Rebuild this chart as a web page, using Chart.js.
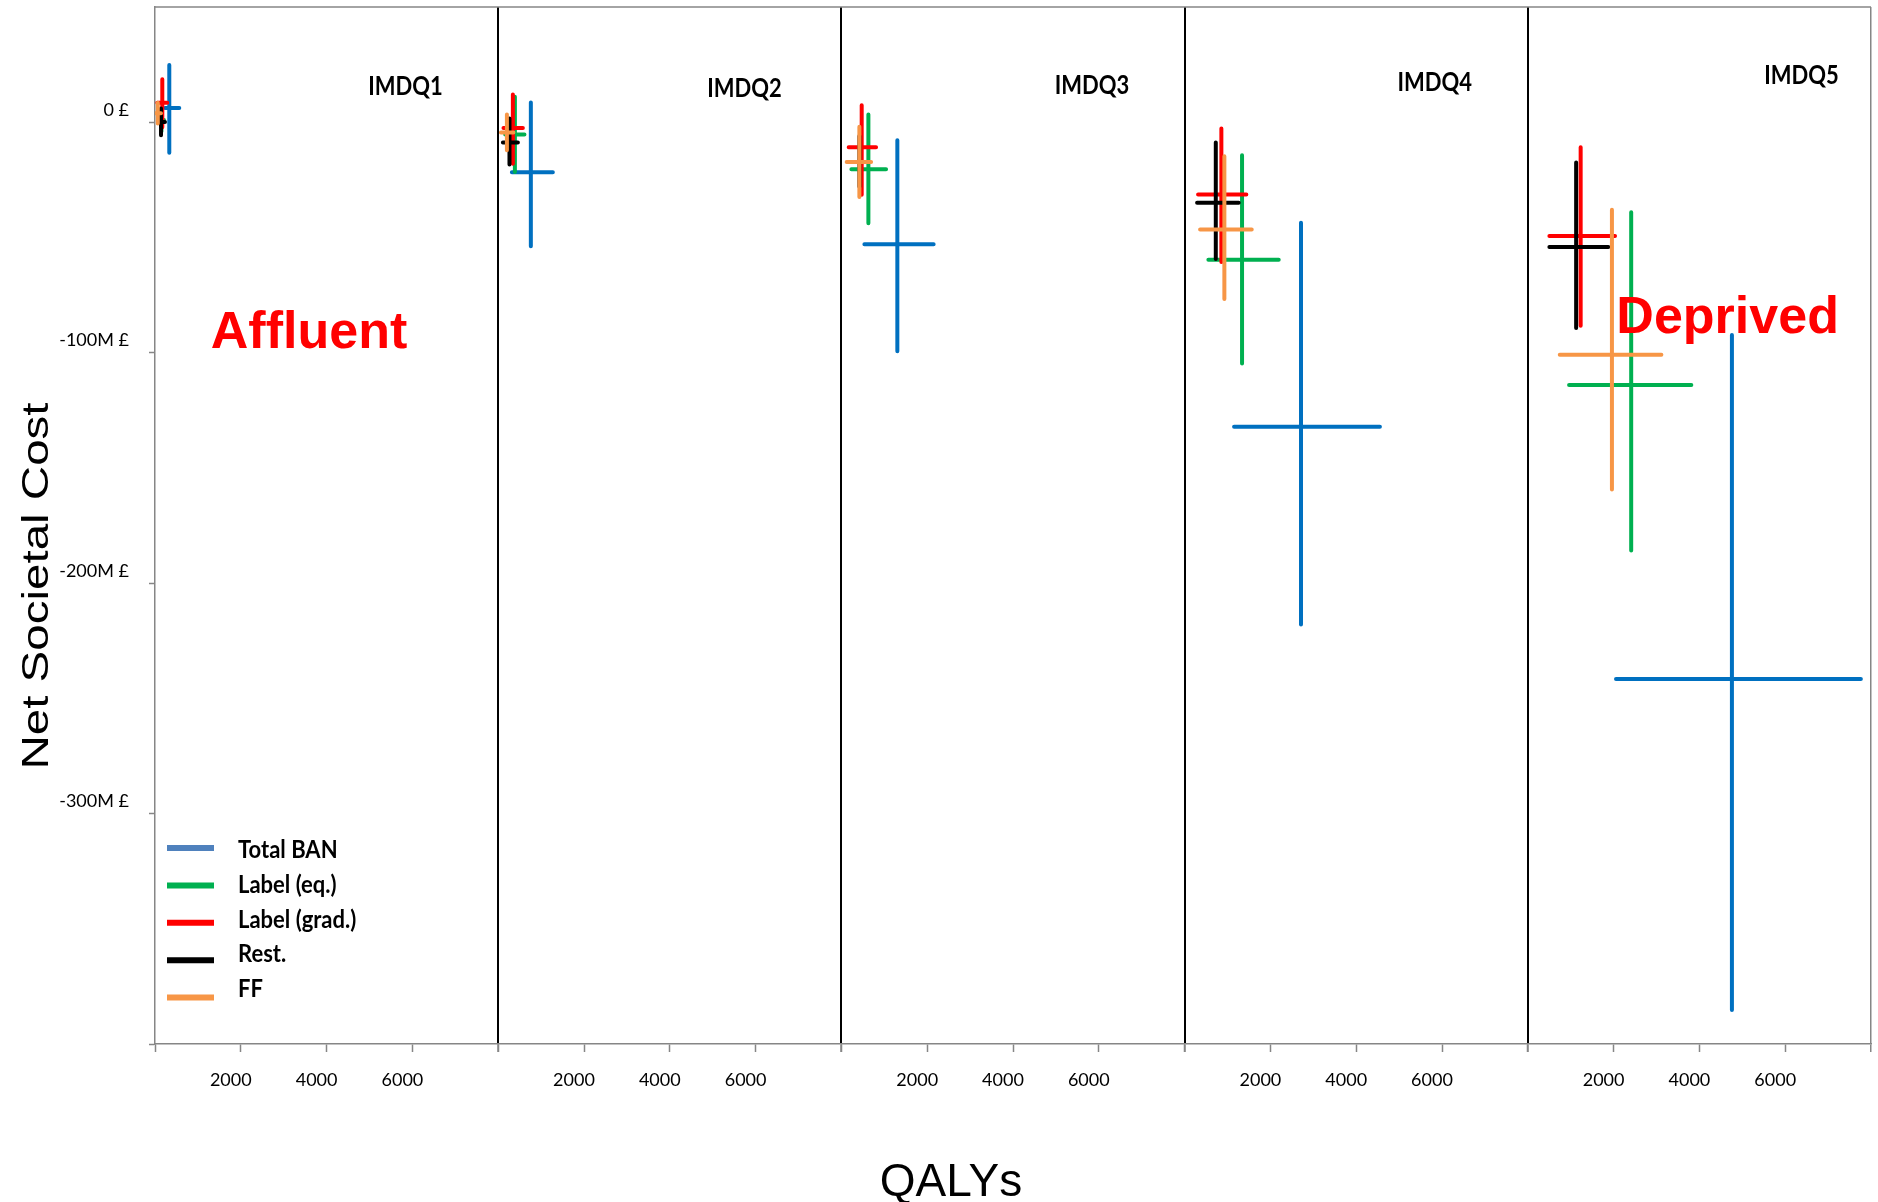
<!DOCTYPE html>
<html>
<head>
<meta charset="utf-8">
<title>Net societal cost and QALYs by IMD quintile</title>
<script src="https://cdn.jsdelivr.net/npm/chart.js@4.4.1/dist/chart.umd.min.js"></script>
<style>
  html, body { margin: 0; padding: 0; background: #ffffff; }
  canvas { display: block; }
</style>
</head>
<body>
<canvas id="chart" width="1878" height="1202"></canvas>
<script>
// Panels: IMD quintiles, from most affluent (Q1) to most deprived (Q5)
const quintiles = ['IMDQ1', 'IMDQ2', 'IMDQ3', 'IMDQ4', 'IMDQ5'];
const seriesNames = ['Total BAN', 'Label (eq.)', 'Label (grad.)', 'Rest.', 'FF'];

// Axis ticks
const qalyTicks = [2000, 4000, 6000];
const costTicks = [0, -100, -200, -300];
const costTickLabels = ['0 £', '-100M £', '-200M £', '-300M £'];

// Total BAN: QALYs (central, low, high) and net societal cost in £M (central, low, high)
const banQaly      = [333, 761, 1304, 2713, 4758];
const banQalyLow   = [233, 319, 536, 1153, 2056];
const banQalyHigh  = [566, 1274, 2150, 4553, 7764];
const banCost      = [6.2, -21.7, -52.9, -132.2, -241.6];
const banCostLow   = [-13.3, -53.8, -99.4, -218.0, -385.3];
const banCostHigh  = [24.8, 8.6, -7.8, -43.6, -92.3];

// Label (equal)
const eqQaly       = [150, 389, 629, 1339, 2410];
const eqQalyLow    = [100, 163, 233, 554, 962];
const eqQalyHigh   = [210, 612, 1041, 2194, 3812];
const eqCost       = [1.0, -5.3, -20.4, -59.7, -114.0];
const eqCostLow    = [-4.0, -21.6, -43.8, -104.7, -185.8];
const eqCostHigh   = [5.0, 11.0, 3.3, -14.3, -39.1];

// Label (graduated)
const gradQaly     = [170, 342, 473, 857, 1232];
const gradQalyLow  = [54, 123, 170, 314, 503];
const gradQalyHigh = [286, 575, 808, 1439, 2033];
const gradCost     = [8.4, -2.5, -10.9, -31.4, -49.4];
const gradCostLow  = [-2.2, -18.0, -31.5, -60.7, -88.3];
const gradCostHigh = [18.6, 12.0, 7.4, -2.7, -10.9];

// Restrictions
const restQaly     = [140, 263, 420, 727, 1127];
const restQalyLow  = [100, 109, 200, 291, 503];
const restQalyHigh = [233, 459, 600, 1262, 1877];
const restCost     = [0.1, -8.8, -17.3, -34.9, -54.2];
const restCostLow  = [-5.7, -18.4, -28.0, -59.3, -89.3];
const restCostHigh = [6.0, 1.6, -6.0, -8.8, -17.5];

// FF
const ffQaly       = [65, 203, 419, 927, 1961];
const ffQalyLow    = [10, 63, 123, 361, 745];
const ffQalyHigh   = [140, 356, 692, 1565, 3114];
const ffCost       = [3.9, -4.5, -17.3, -46.5, -100.9];
const ffCostLow    = [-0.6, -12.2, -32.5, -76.7, -159.4];
const ffCostHigh   = [8.4, 3.3, -2.0, -14.8, -38.0];

// Styles
const seriesColors = ['#0070C0', '#00B050', '#FF0000', '#000000', '#F79646'];
const legendColors = ['#4F81BD', '#00B050', '#FF0000', '#000000', '#F79646'];
const frameColor = '#868686';

const series = [
  { qaly: banQaly,  lo: banQalyLow,  hi: banQalyHigh,  cost: banCost,  cLo: banCostLow,  cHi: banCostHigh },
  { qaly: eqQaly,   lo: eqQalyLow,   hi: eqQalyHigh,   cost: eqCost,   cLo: eqCostLow,   cHi: eqCostHigh },
  { qaly: gradQaly, lo: gradQalyLow, hi: gradQalyHigh, cost: gradCost, cLo: gradCostLow, cHi: gradCostHigh },
  { qaly: restQaly, lo: restQalyLow, hi: restQalyHigh, cost: restCost, cLo: restCostLow, cHi: restCostHigh },
  { qaly: ffQaly,   lo: ffQalyLow,   hi: ffQalyHigh,   cost: ffCost,   cLo: ffCostLow,   cHi: ffCostHigh }
];

// One cross per series and quintile: horizontal QALY range, gap, vertical cost range
const datasets = [];
series.forEach((s, si) => {
  quintiles.forEach((q, pi) => {
    datasets.push({
      label: seriesNames[si] + ' – ' + q,
      xAxisID: 'q' + (pi + 1),
      yAxisID: 'y',
      data: [
        { x: s.lo[pi], y: s.cost[pi] },
        { x: s.hi[pi], y: s.cost[pi] },
        { x: s.qaly[pi], y: null },
        { x: s.qaly[pi], y: s.cLo[pi] },
        { x: s.qaly[pi], y: s.cHi[pi] }
      ],
      showLine: true,
      spanGaps: false,
      borderColor: seriesColors[si],
      backgroundColor: seriesColors[si],
      borderWidth: 4,
      borderCapStyle: 'round',
      pointRadius: 0,
      pointHoverRadius: 0,
      order: series.length - si
    });
  });
});

const costLabelFor = v => {
  const k = costTicks.indexOf(v);
  return k >= 0 ? costTickLabels[k] : '';
};

const scales = {
  y: {
    type: 'linear',
    position: 'left',
    min: -400,
    max: 50,
    ticks: {
      stepSize: 100,
      autoSkip: false,
      padding: 20,
      labelOffset: -12,
      color: '#000',
      font: { family: 'Lato', size: 18 },
      callback: v => (v > 0 ? null : costLabelFor(v))
    },
    grid: { drawOnChartArea: false, tickLength: 6, tickColor: frameColor, tickWidth: 1.5 },
    border: { color: frameColor, width: 1.5 },
    afterFit: s => { s.width = 155; s.paddingTop = 0; s.paddingBottom = 0; }
  }
};

quintiles.forEach((q, i) => {
  const last = i === quintiles.length - 1;
  scales['q' + (i + 1)] = {
    type: 'linear',
    axis: 'x',
    position: 'bottom',
    stack: 'qalys',
    stackWeight: 1,
    min: 0,
    max: 8000,
    ticks: {
      stepSize: 2000,
      autoSkip: false,
      maxRotation: 0,
      padding: 17,
      labelOffset: -10,
      color: '#000',
      font: { family: 'Lato', size: 18 },
      callback: v => (qalyTicks.includes(v) ? String(v) : '')
    },
    grid: {
      drawOnChartArea: true,
      tickLength: 8,
      tickColor: frameColor,
      tickWidth: 1.5,
      color: c => (c.tick && c.tick.value === 8000) ? (last ? frameColor : '#000') : 'rgba(0,0,0,0)',
      lineWidth: c => (c.tick && c.tick.value === 8000) ? (last ? 1.5 : 2) : 1
    },
    border: { color: frameColor, width: 1.5 },
    afterFit: s => { s.height = 158; s.paddingLeft = 0; s.paddingRight = 0; }
  };
});

// Top edge of the plot frame
const frame = {
  id: 'frame',
  beforeDatasetsDraw(chart) {
    const { ctx, chartArea: a } = chart;
    ctx.save();
    ctx.strokeStyle = frameColor;
    ctx.lineWidth = 1.5;
    ctx.beginPath();
    ctx.moveTo(a.left, a.top);
    ctx.lineTo(a.right, a.top);
    ctx.stroke();
    ctx.restore();
  }
};

function stretchedText(ctx, text, x, y, sx, sy) {
  ctx.save();
  ctx.translate(x, y);
  ctx.scale(sx, sy);
  ctx.fillText(text, 0, 0);
  ctx.restore();
}

// Headings, annotations, axis titles and the legend
const annotations = {
  id: 'annotations',
  afterDraw(chart) {
    const { ctx, chartArea: a } = chart;
    const y = chart.scales.y;
    ctx.save();

    // quintile headings (anchored in each panel's own QALY / cost units)
    const headQaly = [5840, 5740, 5840, 5830, 6380];
    const headCost = [12.0, 11.0, 12.2, 13.6, 16.8];
    ctx.fillStyle = '#000';
    ctx.textAlign = 'center';
    ctx.textBaseline = 'alphabetic';
    ctx.font = 'bold 22px Lato';
    quintiles.forEach((q, i) => {
      const sx = chart.scales['q' + (i + 1)];
      stretchedText(ctx, q, sx.getPixelForValue(headQaly[i]), y.getPixelForValue(headCost[i]), 1, 1.2);
    });

    // gradient annotations
    ctx.fillStyle = '#FF0000';
    ctx.font = 'bold 52px "Liberation Sans", Arial, sans-serif';
    ctx.fillText('Affluent', chart.scales.q1.getPixelForValue(3590), y.getPixelForValue(-98));
    ctx.fillText('Deprived', chart.scales.q5.getPixelForValue(4658), y.getPixelForValue(-91.3));

    // axis titles
    ctx.fillStyle = '#000';
    ctx.font = '46px "Liberation Sans", Arial, sans-serif';
    ctx.textAlign = 'center';
    ctx.fillText('QALYs', 951, 1196);

    ctx.save();
    ctx.translate(38, 586);
    ctx.rotate(-Math.PI / 2);
    ctx.scale(1.32, 1);
    ctx.font = '36px "Liberation Sans", Arial, sans-serif';
    ctx.textBaseline = 'middle';
    ctx.fillText('Net Societal Cost', 0, 0);
    ctx.restore();

    // legend
    ctx.textAlign = 'left';
    ctx.textBaseline = 'middle';
    ctx.font = 'bold 22px Lato';
    seriesNames.forEach((name, i) => {
      const lineY = a.bottom - 196 + i * 37.4;
      const textY = a.bottom - 194 + i * 34.8;
      ctx.strokeStyle = legendColors[i];
      ctx.lineWidth = 6;
      ctx.lineCap = 'butt';
      ctx.beginPath();
      ctx.moveTo(a.left + 12, lineY);
      ctx.lineTo(a.left + 59, lineY);
      ctx.stroke();
      ctx.fillStyle = '#000';
      stretchedText(ctx, name, a.left + 83, textY, 1, 1.12);
    });

    ctx.restore();
  }
};

new Chart(document.getElementById('chart'), {
  type: 'scatter',
  data: { datasets },
  options: {
    responsive: false,
    devicePixelRatio: 1,
    animation: false,
    events: [],
    layout: { padding: { top: 7, right: 7, bottom: 0, left: 0 } },
    plugins: {
      legend: { display: false },
      tooltip: { enabled: false },
      title: { display: false }
    },
    scales
  },
  plugins: [frame, annotations]
});
</script>
</body>
</html>
